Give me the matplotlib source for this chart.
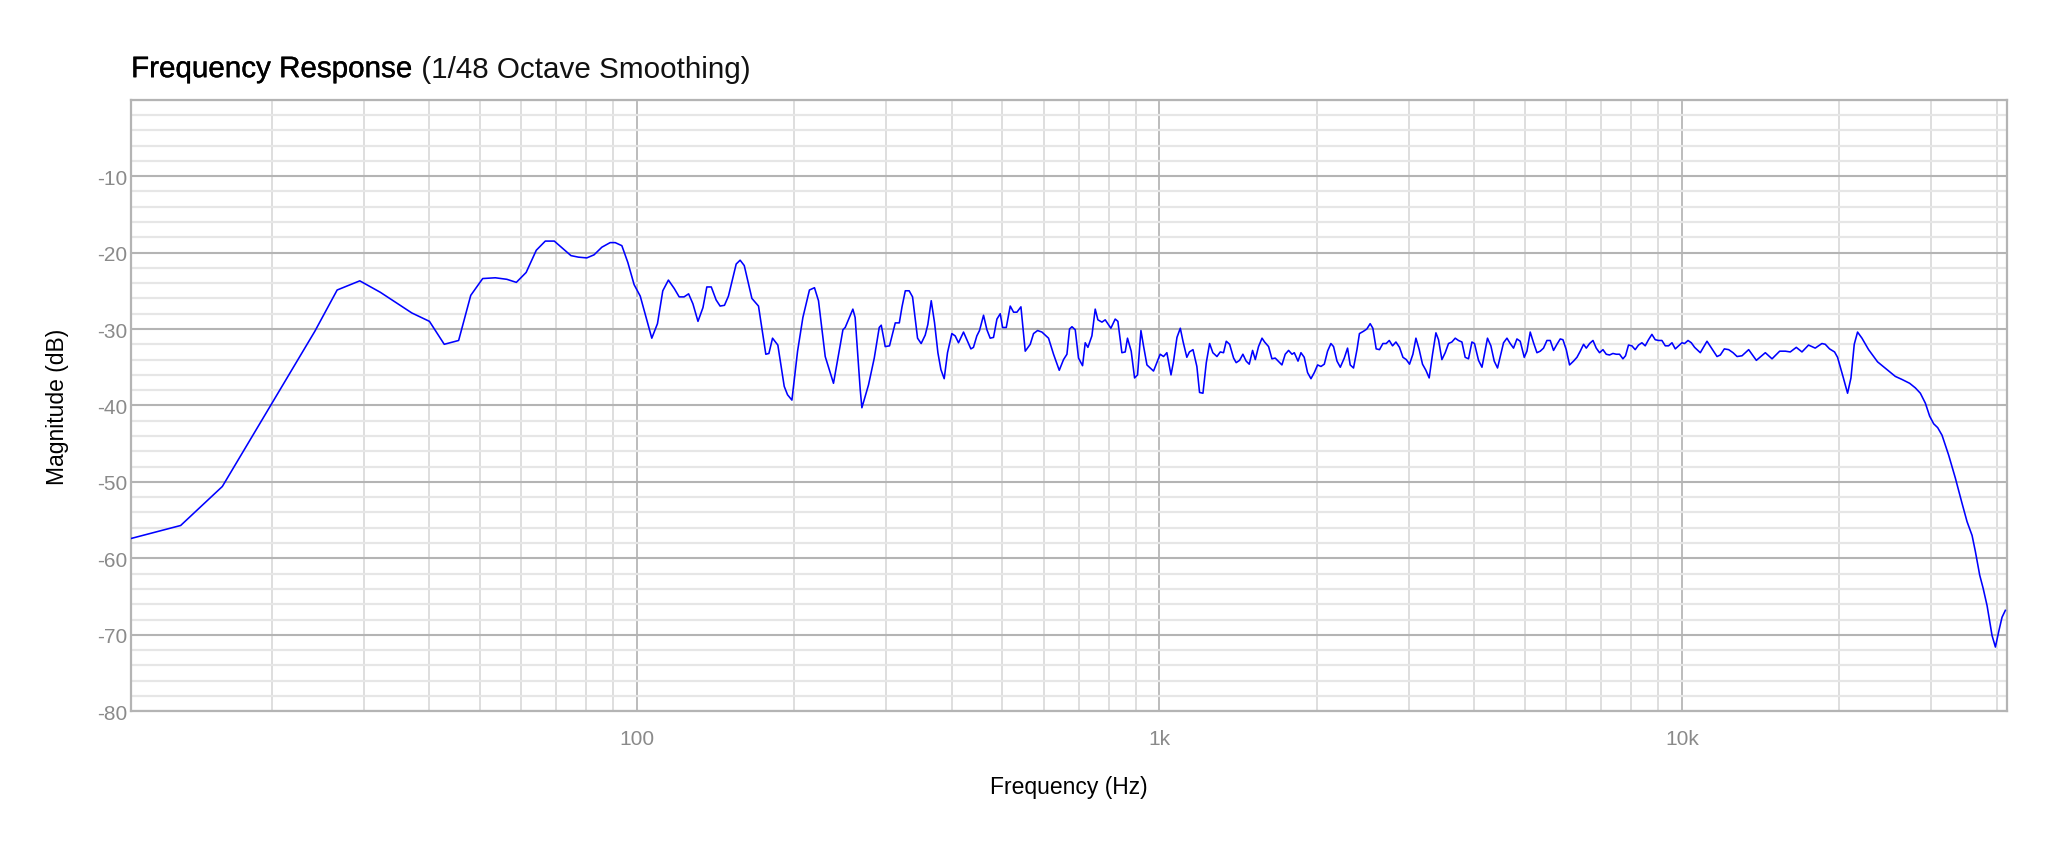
import matplotlib
matplotlib.use("Agg")
import matplotlib.pyplot as plt
import matplotlib.patheffects as pe
from matplotlib.ticker import FixedLocator, NullFormatter, FuncFormatter

plt.rcParams['font.family'] = ['Liberation Sans', 'DejaVu Sans']
plt.rcParams['axes.unicode_minus'] = False

# frequency response (Hz, dB)
freq_hz = [
    10.77, 13.4, 16.1, 24.2, 26.7, 29.5, 32.3, 37.1, 40.1, 42.8, 45.6, 48.1, 50.7, 53.6, 56.4,
    58.8, 61.4, 64.2, 66.8, 69.5, 74.8, 77.3, 80.2, 82.8, 85.7, 88.9, 90.9, 93.6, 96.1, 98.8,
    101.5, 106.8, 109.5, 112.1, 114.9, 117.9, 120.5, 123.1, 125.6, 128.0, 130.9, 133.8, 136.1,
    138.8, 141.8, 144.3, 147.1, 149.7, 154.9, 157.6, 160.5, 166.0, 170.9, 173.4, 176.5, 178.9,
    181.8, 186.1, 191.4, 194.2, 198.0, 203.0, 207.8, 213.9, 218.7, 222.6, 229.3, 237.8, 247.9,
    250.4, 259.0, 261.6, 267.5, 269.5, 277.5, 284.6, 290.9, 293.5, 298.7, 304.4, 312.2, 317.8,
    321.6, 326.3, 331.9, 336.9, 344.4, 349.9, 356.2, 360.4, 365.8, 371.2, 376.7, 381.7, 387.3,
    393.0, 400.6, 406.5, 412.5, 421.7, 428.0, 435.6, 440.6, 447.2, 452.5, 460.6, 467.5, 474.3,
    481.3, 488.6, 495.8, 500.9, 509.1, 518.1, 525.8, 533.6, 543.1, 553.5, 565.8, 574.1, 584.4,
    595.7, 613.3, 627.0, 643.0, 655.2, 665.1, 672.8, 680.0, 689.9, 699.9, 712.5, 720.9, 729.5,
    742.4, 753.4, 762.3, 776.0, 787.3, 807.2, 822.7, 832.5, 847.3, 859.8, 868.5, 882.8, 896.0,
    907.8, 921.5, 932, 946.2, 974.0, 1003, 1018, 1033, 1052, 1064, 1080, 1096, 1109, 1128,
    1141, 1159, 1179, 1193, 1211, 1229, 1247, 1265, 1288, 1307, 1326, 1342, 1362, 1386, 1402,
    1423, 1444, 1465, 1485, 1507, 1525, 1547, 1571, 1589, 1617, 1641, 1665, 1715, 1740, 1766,
    1793, 1811, 1841, 1865, 1892, 1920, 1949, 1978, 2007, 2037, 2067, 2097, 2128, 2153, 2186,
    2218, 2257, 2290, 2317, 2351, 2387, 2413, 2456, 2493, 2530, 2560, 2598, 2636, 2676, 2715,
    2752, 2792, 2834, 2879, 2923, 2966, 3009, 3054, 3095, 3140, 3186, 3234, 3281, 3330, 3380,
    3419, 3470, 3521, 3573, 3626, 3680, 3733, 3790, 3845, 3902, 3961, 4006, 4078, 4140, 4242,
    4306, 4370, 4434, 4553, 4622, 4689, 4758, 4830, 4900, 4988, 5047, 5121, 5196, 5275, 5352,
    5430, 5512, 5593, 5675, 5761, 5845, 5915, 6002, 6090, 6198, 6292, 6384, 6478, 6556, 6652,
    6752, 6850, 6950, 7056, 7158, 7263, 7372, 7482, 7590, 7704, 7793, 7896, 8015, 8132, 8252,
    8376, 8499, 8624, 8754, 8882, 9013, 9148, 9284, 9421, 9563, 9703, 9845, 9993, 10108, 10263,
    10413, 10566, 10834, 11158, 11407, 11662, 11833, 12045, 12275, 12515, 12739, 13021, 13407,
    13868, 14428, 14861, 15370, 15760, 16104, 16536, 16956, 17455, 17975, 18512, 18787, 19146,
    19574, 19833, 20311, 20728, 21040, 21348, 21661, 22085, 22740, 23659, 24660, 25580, 26346,
    27247, 27940, 28564, 29201, 29760, 30292, 30829, 31430, 32359, 33327, 34323, 35090, 35874,
    36400, 37103, 37663, 38330, 38774, 39177, 39759, 40332, 40940, 41540,
]
magnitude_db = [
    -57.4, -55.7, -50.6, -30.3, -24.9, -23.7, -25.2, -27.9, -29.0, -32.0, -31.5, -25.6, -23.4, -23.3, -23.5,
    -23.9, -22.6, -19.7, -18.5, -18.5, -20.4, -20.6, -20.7, -20.3, -19.3, -18.7, -18.7, -19.1, -21.3, -24.2,
    -25.7, -31.2, -29.3, -25.0, -23.6, -24.7, -25.8, -25.8, -25.4, -26.7, -29.0, -27.2, -24.5,
    -24.5, -26.2, -27.0, -26.9, -25.7, -21.5, -21.0, -21.7, -26.0, -27.0, -29.8, -33.3, -33.2,
    -31.2, -32.1, -37.5, -38.6, -39.3, -32.9, -28.5, -24.9, -24.6, -26.3, -33.6, -37.1, -30.1,
    -29.8, -27.4, -28.5, -37.9, -40.3, -37.3, -33.8, -29.8, -29.5, -32.3, -32.2, -29.2, -29.2,
    -27.1, -25.0, -25.0, -25.8, -31.2, -31.9, -30.8, -29.4, -26.3, -29.2, -33.1, -35.3, -36.5,
    -33.1, -30.6, -30.9, -31.8, -30.4, -31.4, -32.6, -32.4, -30.9, -30.2, -28.2, -30.1, -31.2,
    -31.1, -28.7, -28.0, -29.8, -29.8, -27.0, -27.8, -27.8, -27.1, -32.9, -32.0, -30.6, -30.2,
    -30.4, -31.2, -33.3, -35.4, -34.0, -33.3, -30.0, -29.7, -30.1, -33.8, -34.8, -31.8, -32.4,
    -30.9, -27.4, -28.8, -29.1, -28.8, -29.9, -28.7, -29.0, -33.1, -33.0, -31.2, -32.9, -36.4,
    -36.0, -30.2, -32.2, -34.7, -35.5, -33.3, -33.6, -33.1, -36.0, -34.2, -31.1, -29.9, -31.6, -33.7,
    -33.0, -32.7, -34.9, -38.3, -38.4, -34.4, -31.9, -33.1, -33.6, -33.0, -33.1, -31.6, -32.0, -33.8, -34.4,
    -34.1, -33.3, -34.2, -34.6, -32.8, -34.0, -32.3, -31.2, -31.7, -32.3, -33.9, -33.8, -34.7, -33.3, -32.8,
    -33.3, -33.1, -34.2, -33.1, -33.7, -35.7, -36.5, -35.7, -34.7, -34.9, -34.6, -32.9, -31.9, -32.3, -34.2,
    -35.0, -33.8, -32.5, -34.7, -35.1, -32.7, -30.6, -30.3, -30.0, -29.3, -29.9, -32.6, -32.7, -31.9, -31.9,
    -31.5, -32.2, -31.7, -32.4, -33.7, -34.0, -34.6, -33.3, -31.2, -32.7, -34.6, -35.4, -36.4, -33.3, -30.5,
    -31.4, -34.0, -33.1, -31.9, -31.7, -31.2, -31.5, -31.7, -33.7, -33.9, -31.7, -31.9, -34.1, -35.0, -31.2,
    -32.2, -34.2, -35.1, -31.8, -31.2, -31.9, -32.5, -31.3, -31.6, -33.7, -32.9, -30.4, -31.8, -33.1, -32.9,
    -32.5, -31.5, -31.5, -32.8, -32.0, -31.3, -31.4, -32.7, -34.7, -34.2, -33.7, -32.9, -32.0, -32.5, -31.9,
    -31.5, -32.5, -33.1, -32.7, -33.3, -33.4, -33.2, -33.3, -33.3, -33.9, -33.5, -32.1, -32.2, -32.7, -32.1,
    -31.8, -32.2, -31.4, -30.7, -31.4, -31.5, -31.5, -32.2, -32.2, -31.8, -32.6, -32.2, -31.8, -31.9, -31.5,
    -31.8, -32.4, -33.1, -31.6, -32.6, -33.6, -33.4, -32.6, -32.7, -33.1, -33.6, -33.5, -32.7,
    -34.1, -33.1, -33.9, -32.9, -32.9, -33.0, -32.4, -33.0, -32.1, -32.5, -31.9, -32.0, -32.6,
    -33.0, -33.7, -36.2, -38.4, -36.4, -32.0, -30.4, -31.2, -32.7, -34.3, -35.3, -36.2, -36.6,
    -37.1, -37.7, -38.4, -39.7, -41.4, -42.4, -42.9, -43.9, -46.5, -49.5, -52.8, -55.2, -57.0,
    -59.1, -62.2, -63.9, -66.2, -68.3, -70.1, -71.6, -69.6, -67.7, -66.8,
]

x_major = [100, 1000, 10000]
x_minor = [20, 30, 40, 50, 60, 70, 80, 90,
           200, 300, 400, 500, 600, 700, 800, 900,
           2000, 3000, 4000, 5000, 6000, 7000, 8000, 9000,
           20000, 30000, 40000]
y_major = list(range(-80, 0, 10))
y_minor = list(range(-80, 1, 2))

fig = plt.figure(figsize=(20.48, 8.53), dpi=100)
ax = fig.add_axes([0.064, 0.165, 0.916, 0.717])

ax.plot(freq_hz, magnitude_db, color='#0000ff', lw=1.15, zorder=3)

ax.set_xscale('log')
ax.set_xlim(10.77, 41850)
ax.set_ylim(-80, 0)

ax.xaxis.set_major_locator(FixedLocator(x_major))
ax.xaxis.set_minor_locator(FixedLocator(x_minor))
ax.xaxis.set_major_formatter(FuncFormatter(lambda v, p: '100' if v < 500 else f'{int(v / 1000)}k'))
ax.xaxis.set_minor_formatter(NullFormatter())
ax.yaxis.set_major_locator(FixedLocator(y_major))
ax.yaxis.set_minor_locator(FixedLocator(y_minor))

ax.grid(which='minor', axis='x', color='#dedede', lw=1.4, zorder=0)
ax.grid(which='minor', axis='y', color='#e6e6e6', lw=1.6, zorder=0)
ax.grid(which='major', axis='x', color='#aaaaaa', lw=1.1, zorder=1)
ax.grid(which='major', axis='y', color='#b4b4b4', lw=1.5, zorder=1)

for s in ax.spines.values():
    s.set_color('#b4b4b4')
    s.set_linewidth(1.6)

ax.tick_params(which='both', length=0, labelsize=15, labelcolor='#8a8a8a')
ax.tick_params(axis='x', pad=13)
ax.tick_params(axis='y', pad=3)

ax.set_xlabel('Frequency (Hz)', fontsize=16.5, labelpad=19)
ax.set_ylabel('Magnitude (dB)', fontsize=16.5, labelpad=20)

# title: slightly heavier main part followed by the parenthetical
t1 = ax.text(0, 1.027, 'Frequency Response', transform=ax.transAxes, fontsize=21.3,
             ha='left', va='bottom', color='black',
             path_effects=[pe.withStroke(linewidth=0.25, foreground='black')])
ax.annotate(' (1/48 Octave Smoothing)', xy=(1, 0), xycoords=t1, fontsize=21.3,
            ha='left', va='bottom', color='#111111')

fig.savefig('out.png', dpi=100, facecolor='white')
